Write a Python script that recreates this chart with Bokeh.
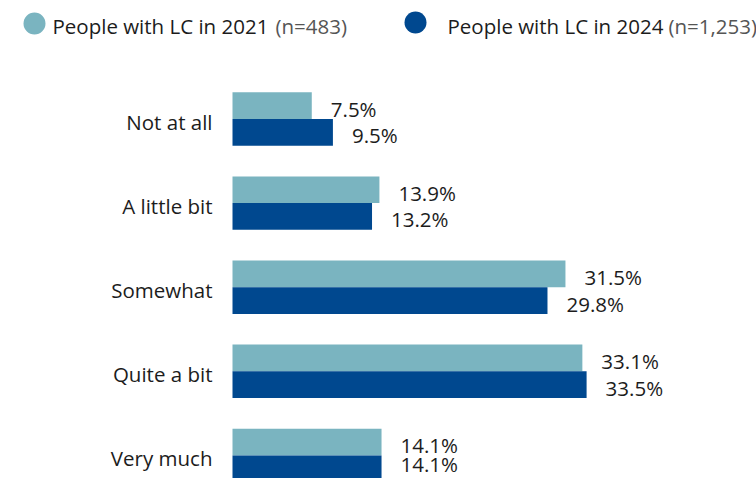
import numpy as np
from bokeh.plotting import figure
from bokeh.models import Range1d, ColumnDataSource
from bokeh.core.properties import value
from bokeh.embed import file_html
from bokeh.resources import INLINE

# ---- data ----
categories = ["Not at all", "A little bit", "Somewhat", "Quite a bit", "Very much"]
values_2021 = [7.5, 13.9, 31.5, 33.1, 14.1]
values_2024 = [9.5, 13.2, 29.8, 33.5, 14.1]
series_names = ["People with LC in 2021", "People with LC in 2024"]
series_n = ["(n=483)", "(n=1,253)"]

# ---- style / layout ----
FONT = "Open Sans"
FS = "20.5px"
C_2021 = "#7AB4C0"
C_2024 = "#00488F"
TXT = "#1c1c1c"
GRAY = "#555555"
W, H = 756, 478
PX_PER_PCT = 10.57       # horizontal scale
ZERO_PX = 232            # canvas x where 0% sits
FIRST_PX = 118.5         # canvas y of first category centre
STEP_PX = 84.1           # canvas px between categories
BAR_PX = 26.7
BAR_H = BAR_PX / STEP_PX
LBL_OFF = 3
HALF_TEXT = 14.5

x_start = -ZERO_PX / PX_PER_PCT
x_end = (W - ZERO_PX) / PX_PER_PCT
y_top = -FIRST_PX / STEP_PX
y_bottom = (H - FIRST_PX) / STEP_PX


def dx(px):
    return x_start + px / PX_PER_PCT


def dy(py):
    return (py - FIRST_PX) / STEP_PX


p = figure(width=W, height=H, output_backend="svg", toolbar_location=None,
           x_range=Range1d(x_start, x_end), y_range=Range1d(y_bottom, y_top),
           min_border=0, min_border_left=0, min_border_right=0,
           min_border_top=0, min_border_bottom=0)
p.axis.visible = False
p.grid.visible = False
p.outline_line_color = None
p.background_fill_color = "white"
p.border_fill_color = "white"

idx = np.arange(len(categories), dtype=float)
off = BAR_H / 2

# keep labels inside the canvas (bottom row would otherwise be clipped)
def label_offsets(sign):
    centres = FIRST_PX + idx * STEP_PX + sign * BAR_PX / 2
    return [float(min(LBL_OFF, H - HALF_TEXT - c)) for c in centres]

src = ColumnDataSource(dict(
    cat=categories, y=idx,
    y21=idx - off, y24=idx + off,
    v21=values_2021, v24=values_2024,
    t21=[f"{v:.1f}%" for v in values_2021],
    t24=[f"{v:.1f}%" for v in values_2024],
    o21=label_offsets(-1), o24=label_offsets(1),
    zero=[0.0] * len(categories),
))

p.hbar(y="y21", left="zero", right="v21", height=BAR_H, source=src,
       fill_color=C_2021, line_color=None)
p.hbar(y="y24", left="zero", right="v24", height=BAR_H, source=src,
       fill_color=C_2024, line_color=None)

# value labels
for xc, yc, tc, oc in (("v21", "y21", "t21", "o21"), ("v24", "y24", "t24", "o24")):
    p.text(x=xc, y=yc, text=tc, source=src, x_offset=19, y_offset=oc,
           text_align="left", text_baseline="middle",
           text_font=value(FONT), text_font_size=FS, text_color=TXT)

# category labels
p.text(x="zero", y="y", text="cat", source=src, x_offset=-20, y_offset=3,
       text_align="right", text_baseline="middle",
       text_font=value(FONT), text_font_size=FS, text_color=TXT)

# legend
leg_circle_px = [(34, 23), (415, 22)]
leg_text_px = [52, 447]
leg_n_px = [275, 668]
leg_y_px = 25
for (cx, cy), tx, nx, name, n, col in zip(leg_circle_px, leg_text_px, leg_n_px,
                                         series_names, series_n, [C_2021, C_2024]):
    p.scatter(x=[dx(cx)], y=[dy(cy)], size=22, marker="circle",
              fill_color=col, line_color=None)
    p.text(x=[dx(tx)], y=[dy(leg_y_px)], text=[name], text_align="left",
           text_baseline="middle", text_font=value(FONT),
           text_font_size=FS, text_color=TXT)
    p.text(x=[dx(nx)], y=[dy(leg_y_px)], text=[n], text_align="left",
           text_baseline="middle", text_font=value(FONT),
           text_font_size=FS, text_color=GRAY)

open("out.html", "w").write(file_html(p, INLINE))
